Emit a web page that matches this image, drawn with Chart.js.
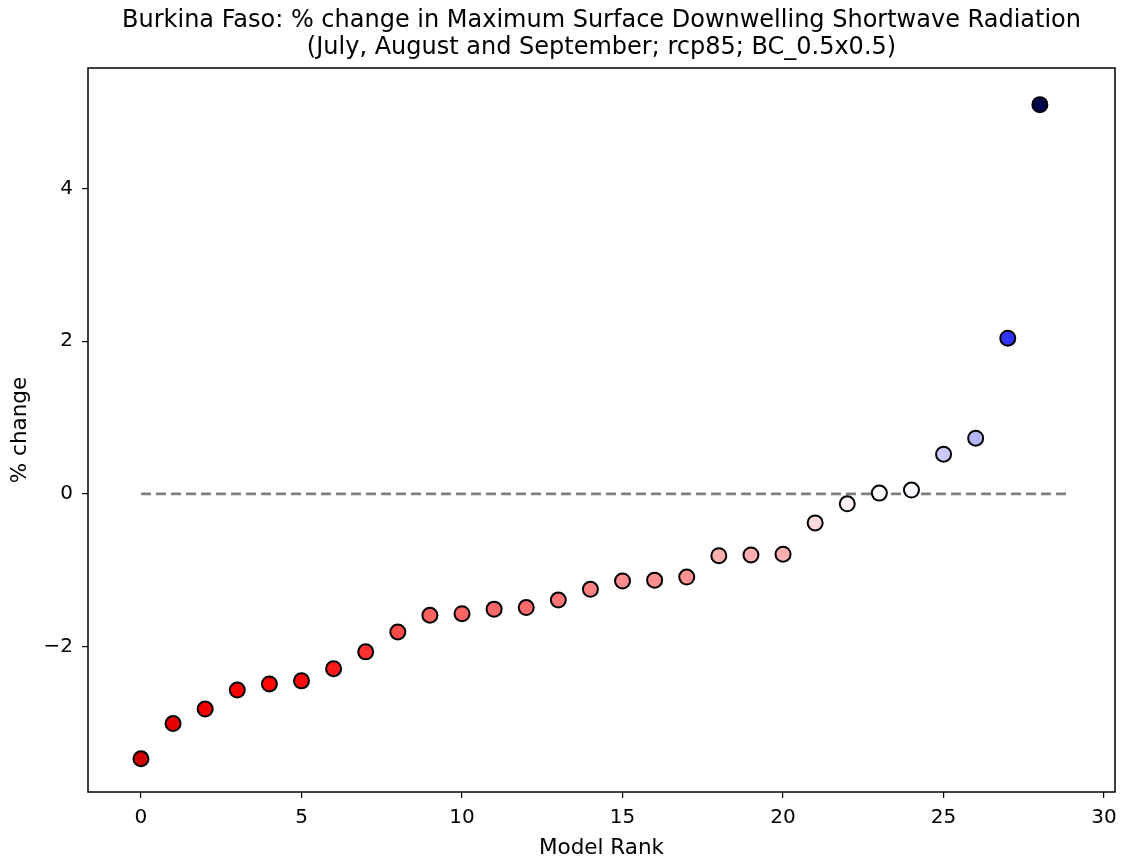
<!DOCTYPE html>
<html>
<head>
<meta charset="utf-8">
<script src="https://cdn.jsdelivr.net/npm/chart.js@4/dist/chart.umd.min.js"></script>
<style>
  html, body { margin: 0; padding: 0; background: #ffffff; }
  #wrap { width: 1121px; height: 861px; }
</style>
</head>
<body>
<div id="wrap"><canvas id="chart"></canvas></div>
<script>
// model rank (x) and % change (y)
const ranks = [0, 1, 2, 3, 4, 5, 6, 7, 8, 9, 10, 11, 12, 13, 14, 15, 16, 17, 18, 19, 20, 21, 22, 23, 24, 25, 26, 27, 28];
const changes = [-3.47, -3.01, -2.82, -2.57, -2.49, -2.45, -2.29, -2.07, -1.81, -1.59, -1.57, -1.51, -1.49, -1.39, -1.25,
                 -1.14, -1.13, -1.09, -0.81, -0.80, -0.79, -0.38, -0.13, 0.01, 0.05, 0.52, 0.73, 2.04, 5.10];
const zeroLineX = [0, 28.9];
const xTicks = [0, 5, 10, 15, 20, 25, 30];
const yTicks = [-2, 0, 2, 4];

const titleLines = [
    "Burkina Faso: % change in Maximum Surface Downwelling Shortwave Radiation",
    "(July, August and September; rcp85; BC_0.5x0.5)"
];

// seismic_r style colormap, symmetric around zero
function seismicR(v, vmax) {
    let t = 1 - (v + vmax) / (2 * vmax);
    t = Math.max(0, Math.min(1, t));
    const stops = [
        [0.00, 0, 0, 0.3],
        [0.25, 0, 0, 1],
        [0.50, 1, 1, 1],
        [0.75, 1, 0, 0],
        [1.00, 0.5, 0, 0]
    ];
    for (let i = 0; i < stops.length - 1; i++) {
        const a = stops[i], b = stops[i + 1];
        if (t <= b[0]) {
            const f = (t - a[0]) / (b[0] - a[0]);
            const c = [1, 2, 3].map(k => Math.round(255 * (a[k] + f * (b[k] - a[k]))));
            return "rgb(" + c.join(",") + ")";
        }
    }
    return "rgb(128,0,0)";
}

const vmax = Math.max(...changes.map(Math.abs));
const pointColors = changes.map(v => seismicR(v, vmax));

const font = "'DejaVu Sans', sans-serif";
const noPadding = () => ({ left: 0, top: 0, right: 0, bottom: 0 });

// box round the plot area + title centred over the plot area
const frame = {
    id: "frame",
    afterDraw(chart) {
        const a = chart.chartArea, ctx = chart.ctx;
        ctx.save();
        ctx.strokeStyle = "#000";
        ctx.lineWidth = 1.5;
        ctx.strokeRect(a.left, a.top, a.right - a.left, a.bottom - a.top);

        ctx.fillStyle = "#000";
        ctx.font = "24px " + font;
        ctx.textAlign = "center";
        ctx.textBaseline = "middle";
        const cx = (a.left + a.right) / 2;
        titleLines.forEach((t, i) => ctx.fillText(t, cx, 21 + i * 27));
        ctx.restore();
    }
};

new Chart(document.getElementById("chart"), {
    type: "scatter",
    data: {
        datasets: [
            {
                label: "zero",
                type: "line",
                data: zeroLineX.map(x => ({ x: x, y: 0 })),
                borderColor: "#808080",
                borderWidth: 2.7,
                borderDash: [10, 5],
                pointRadius: 0,
                order: 2
            },
            {
                label: "models",
                data: ranks.map((r, i) => ({ x: r, y: changes[i] })),
                backgroundColor: pointColors,
                borderColor: "#000",
                borderWidth: 2,
                pointRadius: 7.5,
                order: 1
            }
        ]
    },
    options: {
        responsive: true,
        maintainAspectRatio: false,
        animation: false,
        layout: { autoPadding: false, padding: { left: 0, right: 6, top: 68, bottom: 0 } },
        plugins: {
            legend: { display: false },
            tooltip: { enabled: false },
            title: { display: false }
        },
        scales: {
            x: {
                type: "linear",
                min: -1.65,
                max: 30.34,
                afterBuildTicks: axis => { axis.ticks = xTicks.map(v => ({ value: v })); },
                afterFit: axis => { axis.height = 69; axis.getPadding = noPadding; },
                ticks: { color: "#000", font: { family: font, size: 20 }, padding: 8, maxRotation: 0 },
                grid: { display: true, drawOnChartArea: false, drawTicks: true, tickLength: 6, color: "#000", lineWidth: 1.2 },
                border: { display: false },
                title: { display: true, text: "Model Rank", color: "#000", font: { family: font, size: 21.5 }, padding: { top: 0, bottom: 0 } }
            },
            y: {
                type: "linear",
                min: -3.906,
                max: 5.58,
                afterBuildTicks: axis => { axis.ticks = yTicks.map(v => ({ value: v })); },
                afterFit: axis => { axis.width = 88; axis.getPadding = noPadding; },
                ticks: {
                    color: "#000",
                    font: { family: font, size: 20 },
                    padding: 9,
                    callback: v => (v < 0 ? "\u2212" + Math.abs(v) : String(v))
                },
                grid: { display: true, drawOnChartArea: false, drawTicks: true, tickLength: 6, color: "#000", lineWidth: 1.2 },
                border: { display: false },
                title: { display: true, text: "% change", color: "#000", font: { family: font, size: 21.5 }, padding: { top: 8, bottom: 0 } }
            }
        }
    },
    plugins: [frame]
});
</script>
</body>
</html>
